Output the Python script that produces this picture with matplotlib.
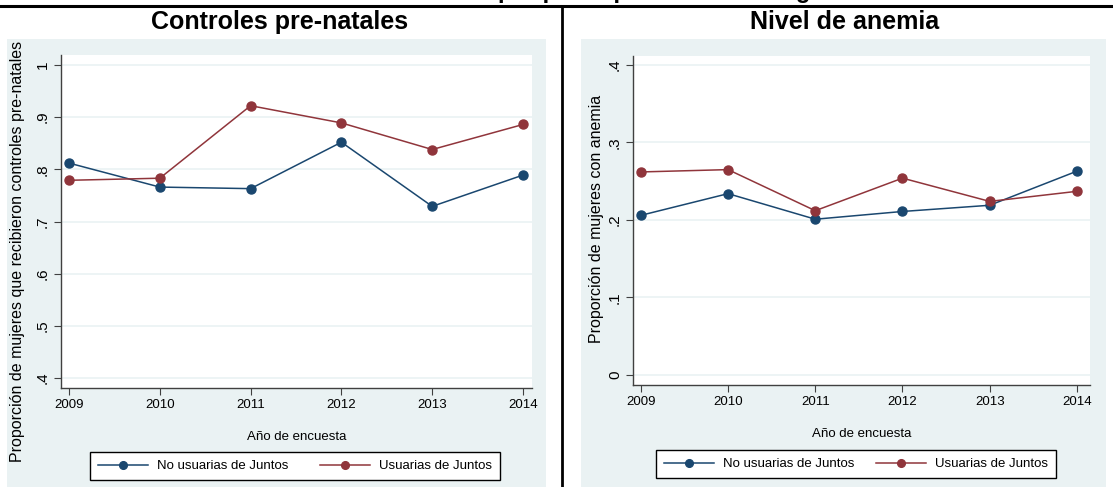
import matplotlib
matplotlib.use("Agg")
import matplotlib.pyplot as plt
from matplotlib.patches import Rectangle
from matplotlib.lines import Line2D

plt.rcParams['font.family'] = ['Liberation Sans', 'DejaVu Sans']

# Survey years
years = [2009, 2010, 2011, 2012, 2013, 2014]

# Share of women with prenatal check-ups
prenatal_no_users = [0.812, 0.766, 0.763, 0.852, 0.729, 0.789]
prenatal_users = [0.779, 0.783, 0.922, 0.889, 0.838, 0.886]

# Share of women with anaemia
anemia_no_users = [0.206, 0.234, 0.201, 0.211, 0.219, 0.263]
anemia_users = [0.262, 0.265, 0.212, 0.254, 0.224, 0.237]

series_labels = ["No usuarias de Juntos", "Usuarias de Juntos"]
prenatal_ticks = [0.4, 0.5, 0.6, 0.7, 0.8, 0.9, 1.0]
prenatal_ticklabels = [".4", ".5", ".6", ".7", ".8", ".9", "1"]
anemia_ticks = [0.0, 0.1, 0.2, 0.3, 0.4]
anemia_ticklabels = ["0", ".1", ".2", ".3", ".4"]

W, H = 1113, 487
fig = plt.figure(figsize=(W / 100, H / 100), dpi=100)
fig.patch.set_facecolor("white")

BLUE = "#1a476f"
RED = "#90353b"
PANEL_BG = "#eaf2f3"
GRID = "#eaf2f3"
AXIS = "#404040"


def px_rect(x0, y0, x1, y1):
    """Pixel box (top-left origin) -> figure fraction rect."""
    return [x0 / W, 1 - y1 / H, (x1 - x0) / W, (y1 - y0) / H]


def px(x, y):
    return x / W, 1 - y / H


# Panel backgrounds, kept underneath the axes
for x0, x1 in [(7, 546), (581, 1106)]:
    r = px_rect(x0, 39, x1, 487)
    fig.add_artist(Rectangle((r[0], r[1]), r[2], r[3], transform=fig.transFigure,
                             facecolor=PANEL_BG, edgecolor="none", zorder=-10))

# Frame lines of the combined figure
fig.add_artist(Line2D([0, 1], [1 - 6 / H, 1 - 6 / H], transform=fig.transFigure,
                      color="black", lw=2.2))
fig.add_artist(Line2D([562 / W, 562 / W], [0, 1 - 6 / H], transform=fig.transFigure,
                      color="black", lw=2.0))

# Overall heading, running off the top edge
fig.text(5 / W, 1 + 1.5 / H,
         "Gráfico: Evolución de indicadores de salud por participación en el Programa Juntos",
         ha="left", va="baseline", fontsize=17, fontweight="bold", color="black")


def panel(rect_px, title, title_x, y_no, y_us, ticks, ticklabels, ylim, xlim,
          ylabel, ylabel_center, legend_center, colspace):
    ax = fig.add_axes(px_rect(*rect_px))
    ax.set_facecolor("white")
    ax.plot(years, y_no, color=BLUE, lw=1.1, marker="o", ms=6.5, mec=BLUE, mfc=BLUE,
            label=series_labels[0], zorder=3)
    ax.plot(years, y_us, color=RED, lw=1.1, marker="o", ms=6.5, mec=RED, mfc=RED,
            label=series_labels[1], zorder=3)
    ax.set_xlim(*xlim)
    ax.set_ylim(*ylim)
    ax.set_xticks(years)
    ax.set_xticklabels([str(y) for y in years], fontsize=9.5)
    ax.set_yticks(ticks)
    ax.set_yticklabels(ticklabels, fontsize=11, rotation=90, va="center")
    ax.grid(axis="y", color=GRID, lw=1.2, zorder=1)
    ax.set_axisbelow(True)
    for s in ["top", "right"]:
        ax.spines[s].set_visible(False)
    for s in ["left", "bottom"]:
        ax.spines[s].set_color(AXIS)
        ax.spines[s].set_linewidth(1.0)
    ax.tick_params(axis="both", direction="out", length=5, width=0.8, color=AXIS,
                   labelcolor="black", pad=3)
    ax.set_xlabel("Año de encuesta", fontsize=9.5, labelpad=14)
    ax.set_ylabel(ylabel, fontsize=11.5)
    ax.yaxis.set_label_coords(*px(*ylabel_center), transform=fig.transFigure)
    ax.yaxis.label.set_va("center")
    fig.text(*px(title_x, 22), title, ha="center", va="center", fontsize=18,
             fontweight="bold")
    leg = fig.legend(handles=ax.get_lines(), labels=series_labels, loc="center",
                     bbox_to_anchor=px(*legend_center), bbox_transform=fig.transFigure,
                     ncol=2, fontsize=9.5, frameon=True, fancybox=False,
                     edgecolor="black", framealpha=1, handlelength=3.8,
                     columnspacing=colspace, handletextpad=0.7, borderpad=0.6,
                     markerscale=0.85)
    leg.get_frame().set_linewidth(1.0)
    return ax


panel((61, 55, 532, 388), "Controles pre-natales", 280,
      prenatal_no_users, prenatal_users, prenatal_ticks, prenatal_ticklabels,
      (0.3808, 1.0192), (2008.912, 2014.099),
      "Proporción de mujeres que recibieron controles pre-natales", (18, 251),
      (295, 466), 2.4)

panel((633, 56, 1090, 385), "Nivel de anemia", 845,
      anemia_no_users, anemia_users, anemia_ticks, anemia_ticklabels,
      (-0.0129, 0.4116), (2008.91, 2014.15),
      "Proporción de mujeres con anemia", (596, 219),
      (856, 464), 1.6)

fig.savefig("out.png", dpi=100, facecolor="white")
